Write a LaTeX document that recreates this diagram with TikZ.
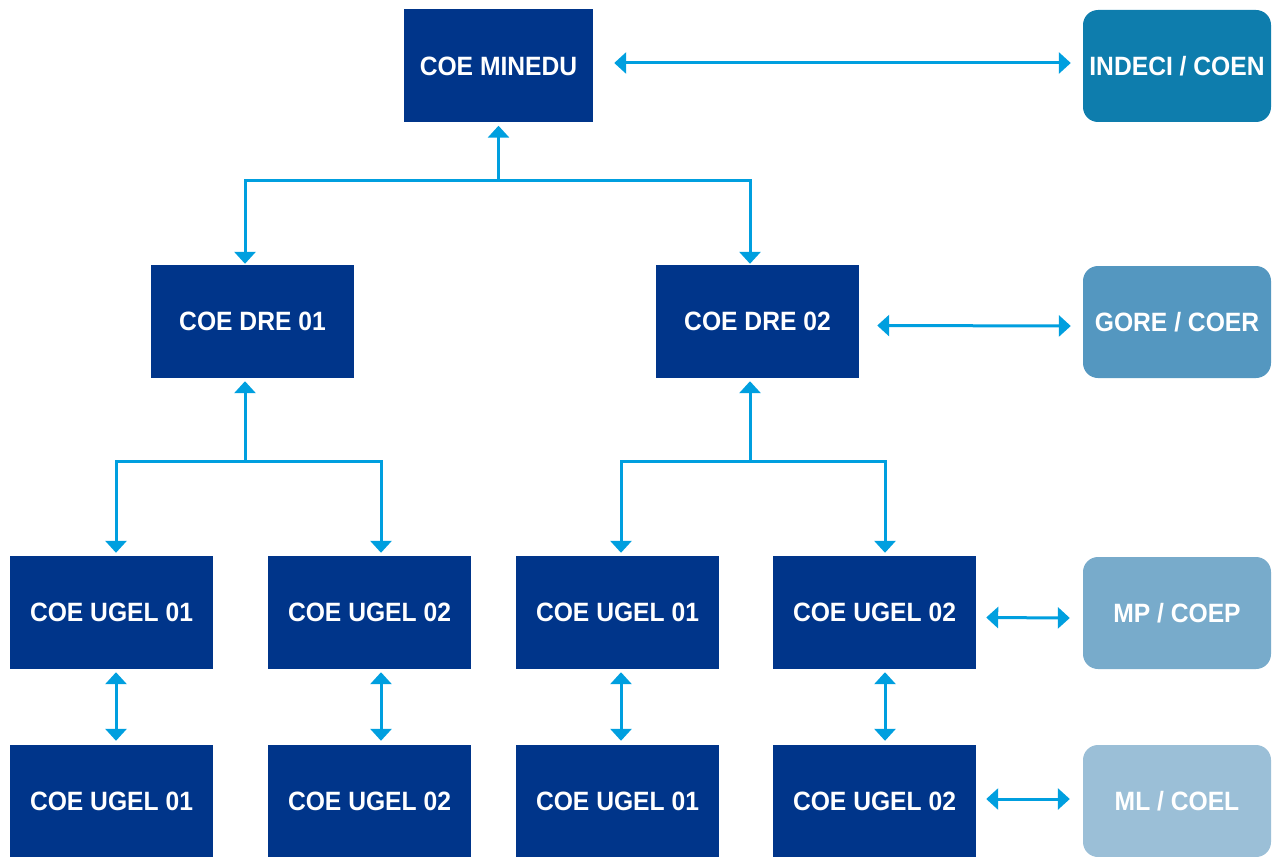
\documentclass[tikz,border=0pt]{standalone}
\usepackage{fontspec}
\setmainfont{Liberation Sans}[FakeStretch=0.93]
\usepackage{xcolor}
\usepackage{tikz}
\usetikzlibrary{arrows.meta}

\definecolor{coenavy}{HTML}{00358A}
\definecolor{linkblue}{HTML}{009FDF}
\definecolor{sideA}{HTML}{0E7DAD}
\definecolor{sideB}{HTML}{5497C0}
\definecolor{sideC}{HTML}{78ABCB}
\definecolor{sideD}{HTML}{9BBFD7}

\begin{document}
\begin{tikzpicture}[x=1pt,y=-1pt,
    coebox/.style={fill=coenavy, text=white, font=\bfseries\fontsize{26.5}{30}\selectfont,
        minimum width=203pt, minimum height=113pt, inner sep=0pt},
    sidebox/.style={text=white, font=\bfseries\fontsize{26.5}{30}\selectfont,
        rounded corners=15pt, minimum width=188pt, minimum height=112pt, inner sep=0pt},
    link/.style={draw=linkblue, line width=3pt},
    tip/.style={-{Triangle[width=21pt,length=12pt]}},
    twoway/.style={{Triangle[width=21pt,length=12pt]}-{Triangle[width=21pt,length=12pt]}}]
    \useasboundingbox (0,0) rectangle (1273,856);

    % Draw the COE boxes
    \node[coebox, minimum width=189pt] (minedu) at (498.5,66) {COE MINEDU};
    \node[coebox] (dreA) at (252.5,321.5) {COE DRE 01};
    \node[coebox] (dreB) at (757.5,321.5) {COE DRE 02};
    \node[coebox] (ugA) at (111.5,612.5) {COE UGEL 01};
    \node[coebox] (ugB) at (369.5,612.5) {COE UGEL 02};
    \node[coebox] (ugC) at (617.5,612.5) {COE UGEL 01};
    \node[coebox] (ugD) at (874.5,612.5) {COE UGEL 02};
    \node[coebox, minimum height=112pt] (lowA) at (111.5,801) {COE UGEL 01};
    \node[coebox, minimum height=112pt] (lowB) at (369.5,801) {COE UGEL 02};
    \node[coebox, minimum height=112pt] (lowC) at (617.5,801) {COE UGEL 01};
    \node[coebox, minimum height=112pt] (lowD) at (874.5,801) {COE UGEL 02};

    % Boxes on the right
    \node[sidebox, fill=sideA] (indeci) at (1177,66) {INDECI / COEN};
    \node[sidebox, fill=sideB] (gore) at (1177,322) {GORE / COER};
    \node[sidebox, fill=sideC] (mp) at (1177,613) {MP / COEP};
    \node[sidebox, fill=sideD] (ml) at (1177,801) {ML / COEL};

    % Junctions of the tree
    \coordinate (busTop) at (498.5,180);
    \coordinate (busA) at (245,461);
    \coordinate (busB) at (750,461);

    % Arrows of the tree
    \draw[link, tip] (busTop) -- ([yshift=-3pt]minedu.south);
    \draw[link, twoway] ([xshift=-7.5pt,yshift=1pt]dreA.north) |- (busTop) -| ([xshift=-7.5pt,yshift=1pt]dreB.north);
    \draw[link, tip] (busA) -- ([xshift=-7.5pt,yshift=-3pt]dreA.south);
    \draw[link, twoway] ([xshift=4.5pt,yshift=3pt]ugA.north) |- (busA) -| ([xshift=11.5pt,yshift=3pt]ugB.north);
    \draw[link, tip] (busB) -- ([xshift=-7.5pt,yshift=-3pt]dreB.south);
    \draw[link, twoway] ([xshift=3.5pt,yshift=3pt]ugC.north) |- (busB) -| ([xshift=10.5pt,yshift=3pt]ugD.north);

    % Arrows between the two rows
    \draw[link, twoway] ([xshift=4.5pt,yshift=-3pt]ugA.south) -- ([xshift=4.5pt,yshift=4pt]lowA.north);
    \draw[link, twoway] ([xshift=11.5pt,yshift=-3pt]ugB.south) -- ([xshift=11.5pt,yshift=4pt]lowB.north);
    \draw[link, twoway] ([xshift=3.5pt,yshift=-3pt]ugC.south) -- ([xshift=3.5pt,yshift=4pt]lowC.north);
    \draw[link, twoway] ([xshift=10.5pt,yshift=-3pt]ugD.south) -- ([xshift=10.5pt,yshift=4pt]lowD.north);

    % Arrows to the right boxes
    \draw[link, twoway] ([xshift=21pt,yshift=3pt]minedu.east) -- ([xshift=-12pt,yshift=3pt]indeci.west);
    \draw[link, twoway] ([xshift=18pt,yshift=-4pt]dreB.east) -- ([xshift=-12pt,yshift=-4pt]gore.west);
    \draw[link, twoway] ([xshift=10pt,yshift=-5pt]ugD.east) -- ([xshift=-13pt,yshift=-5pt]mp.west);
    \draw[link, twoway] ([xshift=10pt,yshift=2pt]lowD.east) -- ([xshift=-13pt,yshift=2pt]ml.west);
\end{tikzpicture}
\end{document}
